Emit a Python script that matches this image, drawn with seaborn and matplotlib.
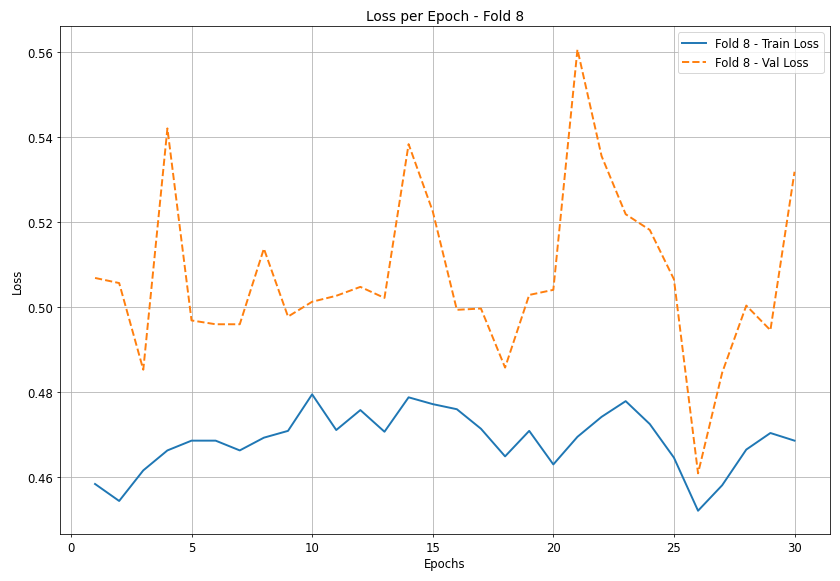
import matplotlib
matplotlib.use("Agg")
import matplotlib.pyplot as plt
import seaborn as sns
import pandas as pd

epochs = list(range(1, 31))
train_loss = [0.4584,0.4544,0.4616,0.4663,0.4686,0.4686,0.4663,0.4693,0.4709,0.4795,
              0.4711,0.4758,0.4707,0.4788,0.4772,0.4760,0.4714,0.4649,0.4709,0.4630,
              0.4695,0.4742,0.4779,0.4725,0.4646,0.4521,0.4581,0.4665,0.4704,0.4686]
val_loss = [0.5069,0.5057,0.4853,0.5421,0.4969,0.4960,0.4960,0.5138,0.4978,0.5013,
            0.5027,0.5048,0.5022,0.5384,0.5226,0.4994,0.4997,0.4858,0.5029,0.5041,
            0.5607,0.5356,0.5219,0.5182,0.5066,0.4609,0.4846,0.5004,0.4946,0.5319]

df = pd.DataFrame({"epoch": epochs, "train": train_loss, "val": val_loss})

fig, ax = plt.subplots(figsize=(12, 8.314), dpi=70)
sns.lineplot(data=df, x="epoch", y="train", ax=ax, label="Fold 8 - Train Loss", color="#1f77b4", linewidth=2)
sns.lineplot(data=df, x="epoch", y="val", ax=ax, label="Fold 8 - Val Loss", color="#ff7f0e", linestyle="--", linewidth=2)
ax.set_title("Loss per Epoch - Fold 8", fontsize=14)
ax.set_xlabel("Epochs", fontsize=12)
ax.set_ylabel("Loss", fontsize=12)
ax.tick_params(labelsize=12)
ax.grid(True)
ax.legend(loc="upper right", fontsize=12)
fig.tight_layout()
fig.savefig("out.png")
